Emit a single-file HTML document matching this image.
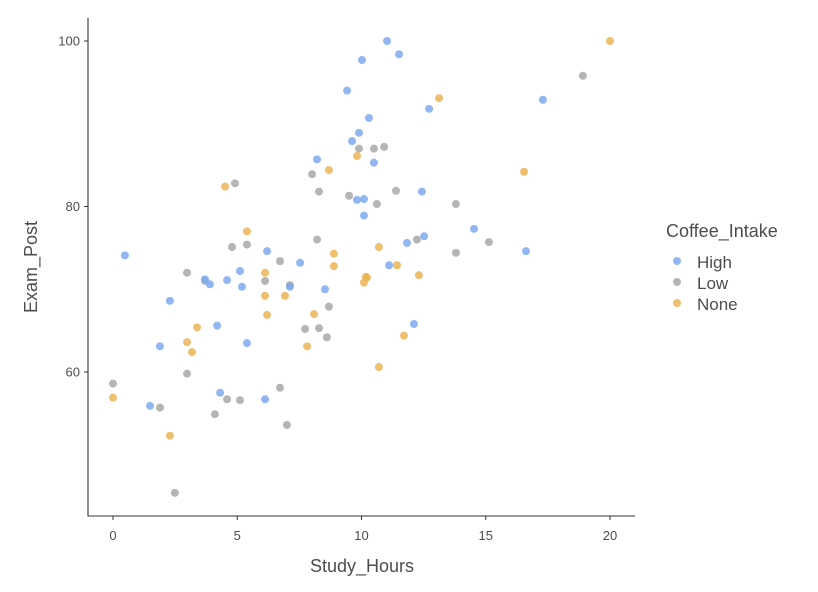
<!DOCTYPE html>
<html><head><meta charset="utf-8"><style>
html,body{margin:0;padding:0;background:#fff;width:818px;height:592px;overflow:hidden}
svg{display:block;font-family:"Liberation Sans",sans-serif}
</style></head><body>
<svg id="chart" width="818" height="592">
<g id="axes"></g>
<g id="points"></g>
<g id="legend">
<text x="666" y="237" font-size="18" fill="#4d4d4d">Coffee_Intake</text>
<circle cx="677" cy="261" r="4" fill="#7fa9ee" opacity="0.85"/>
<text x="697" y="268" font-size="17" fill="#4d4d4d">High</text>
<circle cx="677" cy="282" r="4" fill="#a8a8a8" opacity="0.85"/>
<text x="697" y="289" font-size="17" fill="#4d4d4d">Low</text>
<circle cx="677" cy="303" r="4" fill="#ebb455" opacity="0.85"/>
<text x="697" y="310" font-size="17" fill="#4d4d4d">None</text>
</g>
</svg>
<script>
const xTicks=[0,5,10,15,20];
const yTicks=[60,80,100];
const highX=[0.48,2.29,3.7,3.9,4.59,5.11,5.19,6.2,7.53,7.12,8.53,4.19,1.89,5.39,4.31,1.49,6.12,9.82,10.1,10.1,11.03,11.51,10.02,9.42,10.3,9.9,9.62,8.21,10.5,12.72,17.3,12.43,14.53,12.52,11.83,16.62,11.11,12.11];
const highY=[74.1,68.6,71.2,70.6,71.1,72.2,70.3,74.6,73.2,70.3,70.0,65.6,63.1,63.5,57.5,55.9,56.7,80.8,80.9,78.9,100,98.4,97.7,94.0,90.7,88.9,87.9,85.7,85.3,91.8,92.9,81.8,77.3,76.4,75.6,74.6,72.9,65.8];
const lowX=[4.91,8.01,8.29,9.5,4.79,5.39,8.21,6.72,2.98,3.7,6.12,7.12,8.69,7.73,8.29,8.61,2.98,0,1.89,4.59,5.11,4.1,6.72,7.0,2.49,18.91,9.9,10.5,10.91,10.62,11.39,13.8,12.23,13.8,15.13];
const lowY=[82.8,83.9,81.8,81.3,75.1,75.4,76.0,73.4,72.0,71.0,71.0,70.5,67.9,65.2,65.3,64.2,59.8,58.6,55.7,56.7,56.6,54.9,58.1,53.6,45.4,95.8,87.0,87.0,87.2,80.3,81.9,80.3,76.0,74.4,75.7];
const noneX=[4.51,8.69,5.39,8.89,8.89,10.18,10.1,6.12,6.12,6.92,6.2,8.09,7.81,3.38,2.98,3.18,0,2.29,20,13.12,9.82,16.54,10.7,11.43,10.22,12.31,11.71,10.7];
const noneY=[82.4,84.4,77.0,74.3,72.8,71.5,70.8,72.0,69.2,69.2,66.9,67.0,63.1,65.4,63.6,62.4,56.9,52.3,100,93.1,86.1,84.2,75.1,72.9,71.4,71.7,64.4,60.6];
const NS='http://www.w3.org/2000/svg';
function sx(v){return 113+v*24.85;}
function sy(v){return 372-(v-60)*8.275;}
function mk(tag,attrs,parent){const e=document.createElementNS(NS,tag);for(const k in attrs)e.setAttribute(k,attrs[k]);parent.appendChild(e);return e;}
const axes=document.getElementById('axes');
let l=mk('line',{x1:88,y1:18,x2:88,y2:516.5,stroke:'#333','stroke-width':1.1},axes);


l=mk('line',{x1:87.5,y1:516,x2:635,y2:516,stroke:'#333','stroke-width':1.1},axes);


xTicks.forEach(t=>{
 const tk=mk('line',{x1:sx(t),y1:516,x2:sx(t),y2:520,stroke:'#333'},axes);
 
 
 const tx=mk('text',{x:sx(t),y:540,'text-anchor':'middle','font-size':13,fill:'#4d4d4d'},axes);
 tx.textContent=t;
 
 
});
yTicks.forEach(t=>{
 const tk=mk('line',{x1:84,y1:sy(t),x2:88,y2:sy(t),stroke:'#333'},axes);
 
 
 const tx=mk('text',{x:80,y:sy(t)+4.5,'text-anchor':'end','font-size':13,fill:'#4d4d4d'},axes);
 tx.textContent=t;
 
 
});
let t=mk('text',{x:362,y:572,'text-anchor':'middle','font-size':18,fill:'#4d4d4d'},axes);
t.textContent='Study_Hours';


t=mk('text',{x:0,y:0,'text-anchor':'middle','font-size':18,fill:'#4d4d4d',transform:'translate(37,267) rotate(-90)'},axes);
t.textContent='Exam_Post';


const pts=document.getElementById('points');
function series(xs,ys,color,name){
 xs.forEach((x,i)=>{
  const c=mk('circle',{cx:sx(x),cy:sy(ys[i]),r:4,fill:color,opacity:0.85},pts);
  
  
 });
}
series(lowX,lowY,'#a8a8a8','point-low');
series(noneX,noneY,'#ebb455','point-none');
series(highX,highY,'#7fa9ee','point-high');
</script>
</body></html>
